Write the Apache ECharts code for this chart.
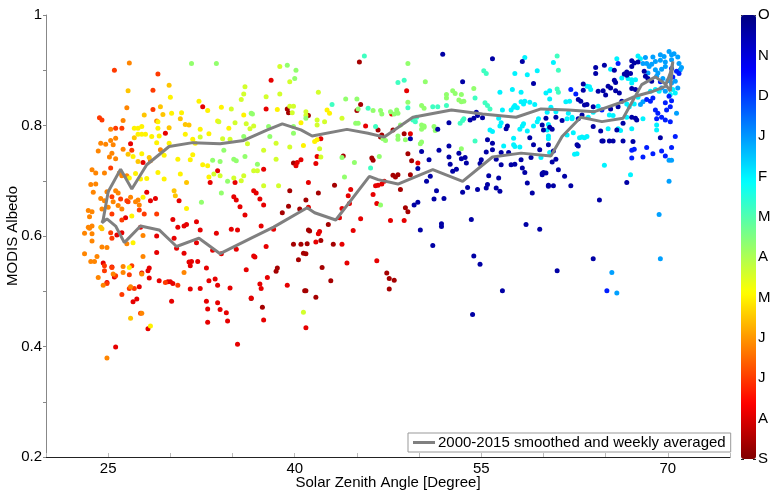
<!DOCTYPE html>
<html>
<head>
<meta charset="utf-8">
<script src="https://cdn.jsdelivr.net/npm/echarts/dist/echarts.min.js"></script>
<style>html,body{margin:0;padding:0;background:#fff;}#c{width:771px;height:497px;}</style>
</head>
<body>
<div id="c"></div>
<script>
// Colour-bar month letters (bottom = 0 ... top = 11)
const monthLetters = ['S','A','J','J','M','A','M','F','J','D','N','O'];
const xTickLabels = [25, 40, 55, 70];

// Scatter points [solar zenith angle, albedo], grouped by colour (month position on colour bar)
const darkRed = [[39.4,.830],[39.5,.823],[41.1,.818],[40.9,.665],[39.6,.682],[39.0,.642],[39.5,.654],[40.4,.649],[41.1,.611],[39.9,.585],[40.5,.585],[41.0,.586],[40.9,.568],[40.3,.557],[38.6,.542],[38.5,.536],[40.8,.501],[37.4,.471],[36.5,.487],[45.2,.915],[45.3,.838],[45.0,.827],[46.7,.792],[47.0,.783],[46.9,.779],[47.9,.792],[48.8,.785],[49.1,.749],[49.4,.736],[41.9,.678],[43.2,.692],[43.9,.745],[47.9,.710],[48.1,.707],[48.3,.711],[49.3,.711],[48.5,.684],[49.1,.644],[48.9,.651],[42.7,.621],[41.2,.609],[42.1,.592],[43.1,.585],[40.7,.569],[42.2,.543],[40.9,.501],[41.7,.489],[42.9,.519],[47.4,.533],[47.6,.523],[48.0,.520],[47.6,.504],[39.9,.732],[46.2,.741],[46.3,.737]];
const red = [[32.6,.834],[37.7,.830],[38.1,.882],[29.6,.786],[26.8,.767],[27.8,.733],[33.8,.718],[33.2,.697],[35.2,.697],[37.5,.721],[40.2,.733],[40.1,.727],[28.1,.679],[28.4,.664],[28.8,.668],[30.7,.664],[35.1,.671],[35.3,.665],[35.6,.653],[36.7,.682],[36.9,.678],[37.2,.667],[37.5,.656],[26.4,.633],[30.2,.630],[30.6,.616],[31.1,.618],[31.3,.621],[32.1,.626],[32.4,.611],[33.7,.605],[34.9,.612],[35.4,.611],[36.0,.638],[37.3,.618],[38.3,.612],[41.1,.652],[25.7,.602],[26.1,.606],[27.6,.616],[28.9,.600],[30.3,.596],[30.5,.578],[32.1,.588],[33.4,.574],[34.1,.568],[35.3,.576],[36.7,.564],[37.7,.581],[24.6,.551],[25.3,.544],[25.5,.526],[27.7,.533],[28.2,.537],[28.3,.542],[29.1,.519],[29.8,.517],[30.0,.517],[30.2,.514],[31.6,.546],[31.7,.554],[32.9,.542],[33.1,.519],[33.8,.511],[32.4,.505],[31.6,.504],[34.8,.506],[36.5,.488],[37.2,.513],[37.3,.505],[37.8,.525],[39.4,.511],[24.9,.516],[27.3,.486],[27.0,.481],[27.5,.508],[28.3,.524],[30.1,.482],[32.9,.482],[33.8,.479],[33.0,.468],[34.0,.467],[34.5,.461],[34.6,.446],[33.0,.444],[37.5,.448],[28.2,.432],[25.6,.399],[35.4,.404],[28.9,.570],[31.1,.569],[31.5,.553],[32.2,.554],[33.6,.522],[36.1,.539],[36.8,.562],[40.5,.738],[41.1,.697],[41.7,.731],[41.8,.744],[42.1,.776],[46.5,.691],[46.7,.692],[47.0,.694],[47.2,.699],[46.3,.675],[46.6,.659],[45.3,.631],[44.5,.684],[44.3,.673],[44.4,.659],[43.8,.650],[43.6,.633],[44.7,.610],[43.8,.585],[42.0,.608],[41.9,.604],[41.7,.589],[44.2,.551],[46.6,.555],[47.7,.628],[48.8,.628],[40.9,.434],[45.7,.799],[49.0,.863],[47.8,.821],[49.3,.785],[49.9,.732]];
const orangeRed = [[25.5,.900],[29.0,.893],[28.6,.864],[28.6,.829],[24.3,.814],[24.5,.810],[25.6,.795],[26.1,.795],[25.2,.723],[26.9,.755],[25.3,.671],[26.0,.667],[26.5,.664],[26.6,.662],[25.3,.640],[26.1,.629],[27.5,.647],[27.9,.640],[28.9,.640],[25.2,.606],[25.3,.596],[24.7,.546],[24.7,.537],[24.9,.514],[25.6,.528],[26.7,.530],[26.9,.546],[26.1,.494],[29.6,.516],[30.6,.511],[26.7,.505],[27.1,.505],[27.6,.460],[25.3,.543]];
const orange = [[26.7,.913],[26.5,.832],[26.2,.809],[28.9,.808],[25.2,.793],[24.4,.768],[24.8,.766],[25.2,.773],[25.6,.777],[25.4,.765],[24.2,.754],[25.1,.743],[25.3,.750],[25.6,.740],[26.2,.757],[28.4,.736],[29.2,.756],[24.0,.714],[24.7,.714],[25.9,.714],[26.1,.709],[26.5,.709],[23.6,.693],[23.8,.679],[24.4,.668],[24.7,.664],[24.9,.680],[25.4,.662],[25.6,.682],[25.8,.678],[26.8,.670],[27.2,.662],[27.4,.665],[23.4,.646],[23.7,.644],[23.5,.635],[24.5,.649],[25.0,.652],[25.8,.655],[26.1,.649],[27.5,.656],[23.1,.605],[23.7,.604],[23.7,.591],[23.4,.616],[23.5,.614],[23.7,.618],[24.5,.580],[24.9,.579],[26.5,.586],[27.8,.601],[23.1,.568],[23.6,.554],[23.9,.554],[24.1,.563],[26.2,.545],[24.2,.525],[24.6,.511],[25.4,.531],[26.2,.534],[26.8,.508],[27.7,.531],[27.8,.563],[27.7,.460],[24.9,.379],[31.1,.534],[23.7,.720],[24.0,.694]];
const yellowOrange = [[26.6,.863],[29.9,.873],[29.2,.834],[27.9,.819],[29.4,.820],[30.8,.812],[29.9,.796],[31.2,.802],[31.5,.801],[27.1,.778],[26.6,.748],[27.4,.735],[28.3,.742],[31.3,.697],[30.3,.682],[30.4,.673],[24.5,.613],[24.4,.616],[26.8,.451]];
const yellow = [[30.0,.851],[30.1,.822],[30.9,.823],[32.3,.844],[33.0,.827],[34.1,.833],[33.8,.808],[35.9,.819],[38.6,.829],[27.1,.795],[27.4,.795],[27.7,.798],[29.0,.795],[32.4,.793],[34.7,.795],[29.0,.807],[40.5,.805],[27.4,.784],[27.7,.784],[28.0,.784],[28.5,.780],[28.9,.769],[29.1,.781],[29.9,.768],[31.2,.784],[31.8,.775],[32.0,.768],[33.1,.785],[27.0,.744],[27.7,.749],[29.5,.746],[30.6,.739],[31.6,.738],[31.8,.747],[32.6,.729],[33.0,.727],[26.7,.705],[27.2,.713],[27.6,.703],[28.1,.704],[29.0,.715],[29.5,.703],[30.8,.712],[33.1,.707],[27.8,.670],[31.3,.650],[26.9,.636],[27.0,.588],[26.7,.543],[28.4,.437],[41.6,.771],[40.7,.764],[41.8,.774],[42.6,.828],[42.8,.822]];
const yellowGreen = [[34.9,.830],[35.2,.805],[36.0,.870],[35.9,.857],[35.7,.847],[36.1,.803],[37.7,.852],[38.8,.857],[38.8,.907],[39.6,.879],[39.6,.835],[39.9,.835],[39.8,.823],[33.9,.807],[36.7,.799],[36.4,.794],[34.2,.776],[34.8,.775],[36.2,.767],[37.5,.755],[38.5,.768],[39.6,.761],[32.4,.779],[33.5,.712],[34.0,.709],[35.1,.705],[35.7,.700],[35.9,.709],[36.7,.718],[37.0,.718],[37.5,.691],[38.5,.739],[38.7,.691],[40.7,.462],[40.9,.825],[40.9,.818],[41.9,.860],[41.8,.810],[42.4,.807],[41.8,.801],[42.1,.743],[42.0,.758],[43.8,.813]];
const lightGreen = [[31.7,.912],[33.7,.912],[39.4,.909],[40.1,.900],[40.0,.885],[36.5,.822],[36.6,.821],[40.9,.813],[37.9,.798],[39.9,.798],[35.9,.780],[38.0,.780],[39.9,.786],[33.4,.737],[34.0,.735],[34.3,.755],[35.1,.739],[35.3,.736],[36.0,.744],[37.0,.730],[34.6,.699],[32.5,.661],[34.1,.678],[49.1,.912],[50.5,.879],[52.7,.863],[52.9,.858],[53.4,.856],[52.2,.856],[52.2,.850],[54.4,.867],[53.6,.844],[53.2,.846],[53.4,.843],[50.2,.836],[50.4,.831],[49.1,.842],[48.2,.828],[48.3,.822],[47.7,.825],[48.0,.821],[46.9,.827],[47.0,.821],[46.3,.827],[45.1,.830],[44.1,.848],[45.0,.848],[44.9,.804],[45.1,.804],[48.5,.801],[47.3,.773],[48.9,.774],[48.3,.781],[48.3,.775],[50.2,.801],[50.4,.799],[50.2,.793],[50.4,.797],[51.2,.798],[51.3,.791],[50.2,.770],[50.1,.767],[53.4,.758],[43.8,.742],[44.0,.707],[44.8,.733],[46.8,.744],[46.9,.656],[47.1,.776]];
const aquamarine = [[45.6,.926],[48.3,.878],[48.8,.882],[55.2,.899],[55.4,.894],[54.5,.850],[55.3,.841],[55.5,.836],[55.7,.830],[52.2,.836],[51.5,.834],[51.1,.834],[49.1,.832],[45.9,.831],[43.0,.838],[46.5,.798],[49.5,.810],[49.7,.807],[49.8,.815],[53.3,.804],[53.5,.809],[53.6,.812],[54.5,.772],[46.1,.723],[61.1,.926],[61.2,.900],[61.2,.860],[61.1,.866]];
const cyan = [[58.5,.923],[57.7,.894],[58.7,.892],[59.5,.899],[56.5,.860],[57.5,.865],[58.2,.860],[60.2,.859],[56.7,.828],[57.4,.828],[57.6,.833],[57.7,.836],[58.2,.843],[58.5,.844],[58.9,.842],[59.3,.838],[57.9,.832],[58.4,.839],[56.6,.805],[56.4,.813],[56.5,.799],[55.7,.792],[55.9,.789],[56.8,.763],[57.6,.765],[57.7,.762],[58.1,.761],[57.6,.777],[58.1,.793],[58.3,.799],[58.4,.803],[58.7,.790],[59.2,.799],[59.6,.812],[59.5,.807],[60.4,.802],[60.4,.781],[60.4,.776],[60.3,.792],[59.8,.742],[60.8,.914],[65.9,.921],[65.4,.902],[67.6,.926],[67.8,.921],[66.3,.886],[66.8,.885],[67.1,.883],[67.4,.883],[67.1,.877],[63.7,.870],[63.8,.865],[63.5,.871],[60.5,.863],[62.1,.844],[61.8,.843],[64.4,.835],[60.5,.848],[60.6,.833],[60.3,.824],[61.0,.825],[62.0,.822],[61.9,.812],[62.3,.815],[62.3,.812],[63.6,.815],[64.0,.824],[65.3,.819],[65.6,.818],[66.7,.839],[66.9,.834],[67.3,.839],[68.6,.862],[69.0,.865],[69.3,.862],[70.2,.856],[70.4,.865],[70.6,.859],[69.1,.801],[69.1,.792],[68.0,.812],[66.7,.815],[66.0,.794],[66.2,.791],[67.1,.794],[65.2,.794],[63.5,.780],[63.3,.778],[62.9,.778],[63.1,.779],[62.4,.787],[61.9,.783],[62.7,.749],[62.5,.748],[60.5,.751],[64.9,.728],[67.0,.711],[67.6,.851]];
const lightBlue = [[68.0,.912],[68.3,.912],[68.5,.907],[68.7,.911],[69.0,.916],[69.4,.918],[69.4,.928],[69.7,.925],[70.1,.934],[70.3,.928],[70.5,.930],[70.8,.924],[69.0,.901],[69.2,.895],[69.5,.902],[69.8,.907],[69.1,.889],[69.5,.868],[69.8,.862],[68.0,.843],[67.8,.838],[70.1,.737],[70.3,.737],[70.1,.699],[69.3,.639],[69.4,.559],[65.5,.534],[65.9,.497],[70.7,.822],[70.0,.881],[70.3,.877],[70.6,.880],[69.6,.885],[68.2,.923],[68.8,.924],[69.8,.915],[70.3,.919],[70.9,.912],[71.0,.901],[68.4,.895],[70.8,.868],[71.1,.905]];
const blue = [[66.0,.912],[65.1,.501],[64.7,.828],[62.2,.865],[62.6,.857],[70.4,.888],[70.3,.903],[70.7,.898],[70.9,.894],[69.4,.879],[68.3,.847],[68.6,.844],[68.8,.850],[70.1,.853],[70.3,.845],[69.8,.841],[70.2,.834],[69.9,.828],[69.0,.828],[69.2,.822],[69.1,.812],[69.5,.815],[69.8,.810],[70.2,.807],[67.1,.755],[67.3,.757],[67.1,.741],[68.0,.743],[68.3,.760],[68.8,.749],[69.8,.745],[69.5,.754],[70.3,.760],[70.6,.780]];
const navy = [[51.9,.929],[55.9,.921],[58.3,.916],[53.5,.879],[59.2,.876],[49.3,.776],[51.5,.793],[50.2,.753],[51.6,.755],[52.4,.763],[52.4,.805],[54.1,.810],[54.4,.813],[54.7,.818],[54.6,.824],[55.1,.814],[50.9,.708],[50.6,.699],[50.8,.738],[49.9,.722],[51.4,.682],[51.2,.667],[52.0,.668],[49.9,.661],[49.6,.656],[50.1,.611],[51.8,.622],[51.8,.617],[51.1,.583],[54.2,.630],[54.4,.564],[54.9,.549],[52.4,.743],[52.5,.730],[52.7,.717],[53.0,.721],[53.2,.750],[53.4,.740],[53.7,.742],[53.8,.732],[53.5,.679],[53.9,.688],[54.7,.684],[55.4,.687],[55.5,.693],[56.2,.687],[55.0,.738],[54.9,.731],[55.5,.774],[55.9,.756],[55.9,.768],[56.2,.739],[56.4,.705],[55.6,.709],[56.5,.681],[56.6,.729],[56.6,.751],[57.2,.751],[57.4,.729],[57.7,.730],[58.2,.738],[58.3,.723],[58.5,.715],[58.7,.696],[59.1,.678],[59.0,.742],[59.2,.765],[59.7,.756],[59.9,.711],[60.0,.715],[60.4,.690],[58.6,.621],[59.7,.612],[57.1,.799],[57.0,.794],[58.9,.778],[59.9,.801],[60.0,.792],[60.4,.765],[55.4,.752],[56.7,.501],[54.3,.458],[61.1,.537],[64.9,.909],[64.2,.905],[64.2,.894],[65.7,.900],[67.1,.917],[67.3,.913],[67.6,.915],[67.1,.907],[68.1,.898],[68.2,.889],[68.7,.880],[68.4,.885],[66.7,.897],[67.0,.894],[66.7,.891],[66.5,.893],[65.7,.882],[65.8,.878],[65.2,.871],[65.4,.868],[65.8,.863],[66.1,.859],[64.4,.862],[64.8,.863],[65.0,.855],[63.2,.864],[63.2,.875],[62.8,.847],[63.0,.844],[63.5,.838],[63.3,.837],[64.0,.834],[61.0,.815],[61.5,.809],[62.8,.812],[63.1,.819],[65.4,.830],[66.0,.834],[66.3,.844],[67.4,.865],[67.1,.867],[67.5,.810],[67.4,.813],[67.1,.815],[66.4,.804],[65.9,.792],[64.6,.790],[64.8,.772],[64.7,.772],[65.3,.772],[65.6,.772],[66.4,.772],[67.2,.771],[64.0,.798],[60.5,.797],[60.7,.793],[60.2,.813],[62.7,.765],[62.8,.763],[60.8,.754],[61.0,.739],[60.7,.734],[61.2,.720],[61.7,.708],[60.2,.714],[59.9,.713],[60.4,.692],[60.8,.691],[62.2,.691],[64.5,.665],[66.7,.697],[64.0,.559],[69.4,.778]];

// Colour-bar position of each group (0 = S at bottom, 11 = O at top)
const groupMonth = [0.4, 1.1, 2.0, 2.8, 3.5, 4.0, 4.6, 5.3, 6.2, 7.0, 7.9, 9.3, 10.6];
const groups = [darkRed, red, orangeRed, orange, yellowOrange, yellow, yellowGreen, lightGreen, aquamarine, cyan, lightBlue, blue, navy];

// Smoothed, weekly averaged loop [SZA, albedo]
const smoothedLoop = [[70.4,.915],[70.2,.895],[69.8,.871],[68.7,.861],[67.4,.853],[66.4,.843],[64.1,.825],[62.0,.828],[59.8,.830],[57.8,.815],[55.1,.821],[52.6,.828],[49.5,.815],[47.2,.779],[45.9,.786],[44.2,.793],[41.4,.781],[40.5,.792],[39.0,.803],[37.8,.792],[35.9,.773],[34.0,.767],[31.8,.769],[29.9,.762],[28.1,.729],[26.9,.685],[26.0,.721],[25.0,.680],[24.6,.630],[24.5,.624],[24.9,.631],[25.6,.618],[26.3,.588],[27.6,.618],[29.1,.611],[30.5,.581],[32.3,.596],[34.0,.568],[36.5,.596],[38.3,.616],[41.0,.651],[41.6,.642],[43.3,.629],[46.0,.708],[46.7,.702],[48.3,.694],[51.1,.720],[53.5,.699],[55.9,.743],[58.2,.750],[60.6,.745],[61.5,.780],[63.0,.815],[64.7,.807],[66.4,.813],[67.9,.874],[69.0,.888],[69.8,.875],[70.2,.862],[70.4,.916]];

const scatterData = [];
groups.forEach((g, i) => g.forEach(p => scatterData.push([p[0], p[1], groupMonth[i]])));

const FONT = "'Liberation Sans', Arial, sans-serif";
const FS = 15;
const chart = echarts.init(document.getElementById('c'), null, {renderer: 'canvas'});
chart.setOption({
  animation: false,
  backgroundColor: '#fff',
  textStyle: {fontFamily: FONT},
  grid: [
    {left: 46, right: 41, top: 15, bottom: 40, containLabel: false, outerBoundsMode: 'none'},
    {left: 741, width: 15, top: 15, height: 444, containLabel: false, outerBoundsMode: 'none'}
  ],
  xAxis: [{
    type: 'value', min: 20, max: 75, interval: 5, gridIndex: 0,
    name: 'Solar Zenith Angle [Degree]', nameLocation: 'middle', nameGap: 18, nameMoveOverlap: false,
    nameTextStyle: {color: '#000', fontSize: FS, fontFamily: FONT},
    axisLine: {lineStyle: {color: '#222', width: 1}},
    axisTick: {inside: true, length: 4, lineStyle: {color: '#bbb'}},
    axisLabel: {color: '#000', fontSize: FS, fontFamily: FONT, margin: 4,
      formatter: v => xTickLabels.indexOf(v) >= 0 ? String(v) : ''},
    splitLine: {show: false}
  }, {
    type: 'value', gridIndex: 1, min: 0, max: 1, show: false
  }],
  yAxis: [{
    type: 'value', min: 0.2, max: 1, interval: 0.1, gridIndex: 0,
    name: 'MODIS Albedo', nameLocation: 'middle', nameGap: 26, nameMoveOverlap: false,
    nameTextStyle: {color: '#000', fontSize: FS, fontFamily: FONT},
    axisLine: {lineStyle: {color: '#888', width: 1}},
    axisTick: {inside: false, length: 3, lineStyle: {color: '#888'}},
    axisLabel: {color: '#000', fontSize: FS, fontFamily: FONT, margin: 4,
      formatter: v => (Math.round(v * 10) % 2 === 0) ? String(+v.toFixed(1)) : ''},
    splitLine: {show: false}
  }, {
    type: 'value', gridIndex: 1, min: 0, max: 11, interval: 1, position: 'left',
    axisLine: {show: false},
    axisTick: {inside: true, length: 3, lineStyle: {color: '#222', type: 'dashed'}},
    axisLabel: {show: false}, splitLine: {show: false}
  }, {
    type: 'value', gridIndex: 1, min: 0, max: 11, interval: 1, position: 'right',
    axisLine: {show: false},
    axisTick: {inside: true, length: 3, lineStyle: {color: '#222', type: 'dashed'}},
    axisLabel: {color: '#000', fontSize: FS, fontFamily: FONT, margin: 2,
      formatter: v => monthLetters[Math.round(v)]},
    splitLine: {show: false}
  }],
  visualMap: {
    type: 'continuous', min: 0, max: 11, dimension: 2, seriesIndex: 0,
    calculable: false, hoverLink: false, showLabel: false, text: null,
    left: 741, top: 15, itemWidth: 15, itemHeight: 444, padding: 0,
    inRange: {color: ['#800000', '#ff0000', '#ff8000', '#ffff00', '#80ff80', '#00ffff', '#0080ff', '#0000ff', '#000080']}
  },
  legend: {
    data: [{name: '2000-2015 smoothed and weekly averaged', icon: 'rect'}],
    left: 408, top: 433, padding: [2, 5, 2, 5], itemWidth: 22, itemHeight: 3, itemGap: 4,
    borderColor: '#999', borderWidth: 1, backgroundColor: '#fff',
    textStyle: {color: '#000', fontSize: FS, fontFamily: FONT, padding: [0, 0, 0, -2]}
  },
  series: [{
    type: 'scatter', xAxisIndex: 0, yAxisIndex: 0,
    data: scatterData, symbolSize: 5, itemStyle: {opacity: 1}, z: 2,
    silent: true
  }, {
    name: '2000-2015 smoothed and weekly averaged',
    type: 'line', xAxisIndex: 0, yAxisIndex: 0,
    data: smoothedLoop, symbol: 'none', showSymbol: false,
    lineStyle: {color: '#808080', width: 3}, itemStyle: {color: '#808080'}, z: 3,
    silent: true
  }]
});
</script>
</body>
</html>
